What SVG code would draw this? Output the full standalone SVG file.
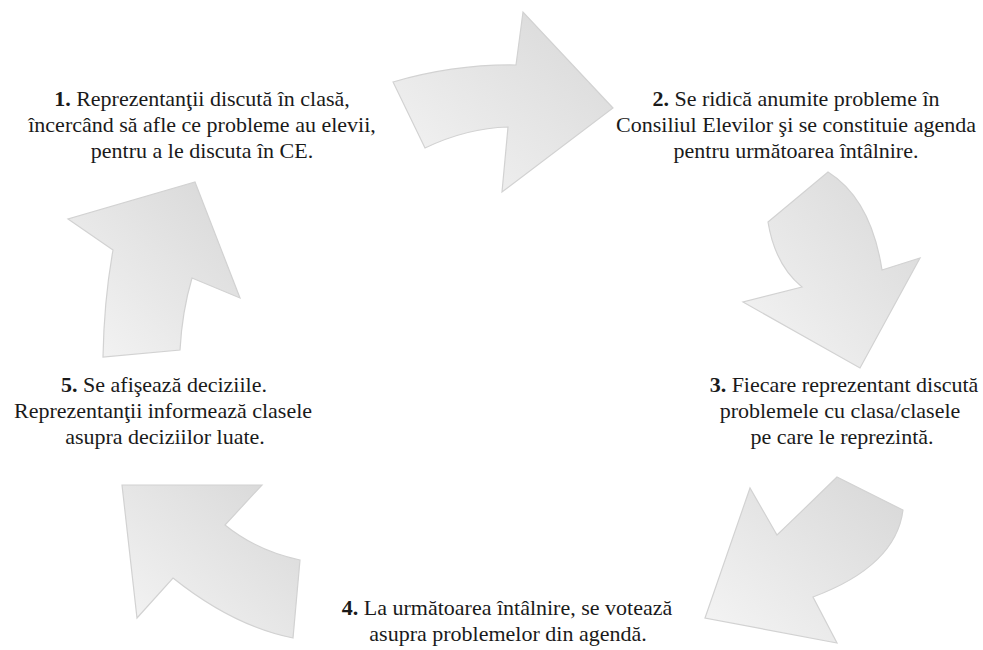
<svg xmlns="http://www.w3.org/2000/svg" width="983" height="650" viewBox="0 0 983 650">
<defs>
<linearGradient id="g" x1="0" y1="1" x2="1" y2="0">
<stop offset="0" stop-color="#f5f5f5"/>
<stop offset="1" stop-color="#d7d7d7"/>
</linearGradient>
<style>
.a{fill:url(#g);stroke:#d2d2d2;stroke-width:1.2;stroke-linejoin:miter}
.t{font-size:22px;fill:#1a1a1a;text-anchor:middle}
.b{font-weight:bold}
</style>
</defs>
<rect width="983" height="650" fill="#ffffff"/>
<g id="connectors">
<path class="a" d="M393,82 Q455,64 516,65 L523,12 L613,108 L502,192 L508,127 Q467,128 425,148 Z"/>
<path class="a" d="M768,222 L828,172 Q871,199 882,270 L920,258 L860,368 L743,302 L802,287 Q775,265 768,222 Z"/>
<path class="a" d="M837,477 L903,510 Q896,566 813,597 L837,643 L705,618 L750,488 L777,535 Q799,514 837,477 Z"/>
<path class="a" d="M122,485 L262,485 L225,525 Q257,551 300,560 L293,638 Q233,626 173,578 L137,618 Z"/>
<path class="a" d="M195,182 L240,298 L192,278 Q182,312 180,350 L103,357 Q104,300 113,250 L68,219 Z"/>
</g>
<g font-family="'Liberation Serif', 'Times New Roman', serif">
<g id="step1" class="t">
<text x="202" y="106"><tspan class="b">1.</tspan> Reprezentanţii discută în clasă,</text>
<text x="202" y="132">încercând să afle ce probleme au elevii,</text>
<text x="202" y="158">pentru a le discuta în CE.</text>
</g>
<g id="step2" class="t">
<text x="796" y="106"><tspan class="b">2.</tspan> Se ridică anumite probleme în</text>
<text x="796" y="132">Consiliul Elevilor şi se constituie agenda</text>
<text x="796" y="158">pentru următoarea întâlnire.</text>
</g>
<g id="step3" class="t">
<text x="844" y="392"><tspan class="b">3.</tspan> Fiecare reprezentant discută</text>
<text x="840" y="418">problemele cu clasa/clasele</text>
<text x="842" y="444">pe care le reprezintă.</text>
</g>
<g id="step4" class="t">
<text x="507" y="615"><tspan class="b">4.</tspan> La următoarea întâlnire, se votează</text>
<text x="508" y="641">asupra problemelor din agendă.</text>
</g>
<g id="step5" class="t">
<text x="164" y="392"><tspan class="b">5.</tspan> Se afişează deciziile.</text>
<text x="163" y="418">Reprezentanţii informează clasele</text>
<text x="165" y="444">asupra deciziilor luate.</text>
</g>
</g>
</svg>
